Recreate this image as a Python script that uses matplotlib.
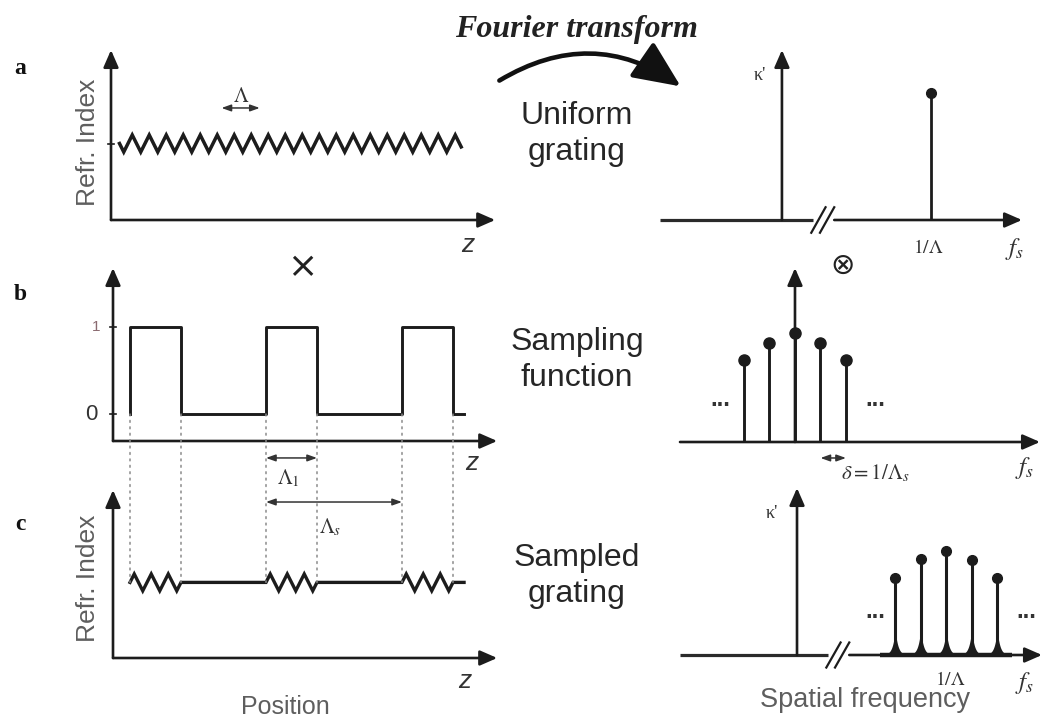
import numpy as np
import matplotlib.pyplot as plt
from matplotlib.patches import ConnectionPatch, FancyArrowPatch

plt.rcParams['font.family'] = ['Liberation Sans', 'DejaVu Sans']
plt.rcParams['mathtext.fontset'] = 'stix'

W, H = 1047, 724
INK = '#1c1c1c'
GREY = '#5e5e5e'

# ---- spatial domain (z measured in grating periods) ----
grating_start, grating_end = 0.5, 20.6
index_mean, index_mod = 0.9, 0.1
burst_starts = [1.0, 9.0, 17.0]
burst_length = 3.0
sample_period = 8.0
signal_end = 20.65
z_axis_len = 22.6
lambda_marker = [6.5, 8.75]

# ---- spectral domain (f measured in comb spacings) ----
comb_orders = [-2, -1, 0, 1, 2]
comb_heights_sampling = [0.75, 0.91, 1.0, 0.91, 0.75]
comb_heights_sampled = [0.74, 0.92, 1.0, 0.91, 0.74]
bragg_freq = 5.85
bragg_height = 1.2
axis_break = 1.6


def tri(z):
    """Unit triangle wave, rising through zero at integer z."""
    return 4 * np.abs(((z - 0.25) % 1.0) - 0.5) - 1


def in_burst(z):
    m = np.zeros_like(z, dtype=bool)
    for s in burst_starts:
        m |= (z >= s) & (z <= s + burst_length)
    return m


fig = plt.figure(figsize=(W / 100, H / 100), dpi=100)
fig.patch.set_facecolor('white')

ov = fig.add_axes([0, 0, 1, 1])
ov.set_xlim(0, W)
ov.set_ylim(H, 0)
ov.axis('off')


def px_axes(x0, y0, x1, y1, xlim, ylim):
    ax = fig.add_axes([x0 / W, 1 - y1 / H, (x1 - x0) / W, (y1 - y0) / H])
    ax.set_xlim(*xlim)
    ax.set_ylim(*ylim)
    ax.axis('off')
    return ax


AXIS_ARROW = dict(arrowstyle='-|>,head_length=0.8,head_width=0.35',
                  color=INK, lw=1.9, mutation_scale=13,
                  shrinkA=0, shrinkB=0)
DIM_ARROW = dict(arrowstyle='<|-|>,head_length=0.7,head_width=0.25',
                 color='#333333', lw=1.1, mutation_scale=8,
                 shrinkA=0, shrinkB=0)


def arrow(ax, start, end, props=AXIS_ARROW):
    ax.annotate('', xy=end, xytext=start, arrowprops=props,
                annotation_clip=False)


# ================= left column: position domain =================
# (a) uniform grating
axa = px_axes(111, 50, 111 + 17 * z_axis_len, 220, (0, z_axis_len), (0, 2.0))
arrow(axa, (0, 0), (z_axis_len, 0))
arrow(axa, (0, 0), (0, 2.0))
za = np.append(np.arange(grating_start, grating_end, 0.25), grating_end)
axa.plot(za, index_mean + index_mod * tri(za), color=INK, lw=2.5,
         solid_joinstyle='miter', clip_on=False)
axa.plot([-0.18, 0.18], [index_mean, index_mean], color=INK, lw=1.2, clip_on=False)
axa.annotate('', xy=(lambda_marker[1], 1.318), xytext=(lambda_marker[0], 1.318),
             arrowprops=DIM_ARROW, annotation_clip=False)

# (b) sampling function
axb = px_axes(113, 268, 113 + 17 * z_axis_len, 441, (0, z_axis_len), (-0.31, 1.68))
arrow(axb, (0, -0.31), (z_axis_len, -0.31))
arrow(axb, (0, -0.31), (0, 1.68))
zs, ys = [], []
for s in burst_starts:
    zs += [s, s, s + burst_length, s + burst_length]
    ys += [0, 1, 1, 0]
zs.append(signal_end)
ys.append(0)
axb.plot(zs, ys, color=INK, lw=2.1, clip_on=False)
for lvl in (0, 1):
    axb.plot([-0.18, 0.18], [lvl, lvl], color=INK, lw=1.2, clip_on=False)
s1 = burst_starts[1]
axb.annotate('', xy=(s1 + burst_length, -0.505), xytext=(s1, -0.505),
             arrowprops=DIM_ARROW, annotation_clip=False)
axb.text(s1 + burst_length / 2 - 0.2, -0.74, r'$\Lambda_1$', fontsize=15,
         ha='center', va='center', color='#333333')

# (c) sampled grating = uniform grating x sampling function
axc = px_axes(113, 490, 113 + 17 * z_axis_len, 658, (0, z_axis_len), (0, 2.0))
arrow(axc, (0, 0), (z_axis_len, 0))
arrow(axc, (0, 0), (0, 2.0))
zc = np.append(np.arange(burst_starts[0], signal_end, 0.25), signal_end)
axc.plot(zc, index_mean + index_mod * tri(zc) * in_burst(zc), color=INK,
         lw=2.4, solid_joinstyle='miter', clip_on=False)
axc.annotate('', xy=(s1 + sample_period, 1.857), xytext=(s1, 1.857),
             arrowprops=DIM_ARROW, annotation_clip=False)
axc.text(s1 + 3.8, 1.56, r'$\Lambda_s$', fontsize=15, ha='center',
         va='center', color='#333333')

# dotted guides from the burst edges down to the sampled grating
for s in burst_starts:
    for e in (s, s + burst_length):
        con = ConnectionPatch(xyA=(e, 0), coordsA=axb.transData,
                              xyB=(e, index_mean), coordsB=axc.transData,
                              color='#8a8a8a', lw=1.1, ls=(0, (1.2, 3.0)))
        fig.add_artist(con)

# ================= right column: spatial-frequency domain =================
def broken_axis(ax, f0, f1):
    ax.plot([f0, axis_break - 0.4], [0, 0], color='#2a2a2a', lw=2.3,
            solid_capstyle='butt', clip_on=False)
    arrow(ax, (axis_break + 0.45, 0), (f1, 0))
    for off in (-0.17, 0.17):
        c = axis_break + off
        ax.plot([c - 0.28, c + 0.28], [-0.12, 0.12], color=INK, lw=1.6,
                clip_on=False)


# (a) spectrum of the uniform grating
ra = px_axes(660, 50, 1022, 220, (-4.78, 9.41), (0, 1.6))
broken_axis(ra, -4.78, 9.41)
arrow(ra, (0, 0), (0, 1.6))
ra.vlines(bragg_freq, 0, bragg_height, color=INK, lw=2.0)
ra.plot([bragg_freq], [bragg_height], 'o', color=INK, ms=7, clip_on=False)

# (b) comb spectrum of the sampling function
rb = px_axes(680, 268, 1040, 442, (-4.51, 9.61), (0, 1.6))
arrow(rb, (-4.51, 0), (9.61, 0))
arrow(rb, (0, 0), (0, 1.6))
rb.vlines(comb_orders, 0, comb_heights_sampling, color=INK, lw=2.1)
rb.plot(comb_orders, comb_heights_sampling, 'o', color=INK, ms=8, clip_on=False)
rb.annotate('', xy=(2, -0.147), xytext=(1, -0.147), arrowprops=DIM_ARROW,
            annotation_clip=False)

# (c) spectrum of the sampled grating
rc = px_axes(680, 488, 1042, 655, (-4.59, 9.61), (0, 1.6))
broken_axis(rc, -4.59, 9.61)
arrow(rc, (0, 0), (0, 1.6))
peaks = [bragg_freq + k for k in comb_orders]
rc.vlines(peaks, 0, comb_heights_sampled, color=INK, lw=2.2)
rc.plot(peaks, comb_heights_sampled, 'o', color=INK, ms=7, clip_on=False)
ff = np.linspace(peaks[0] - 0.6, peaks[-1] + 0.6, 2000)
flare = np.max([0.24 * np.exp(-np.abs(ff - p) / 0.11) for p in peaks], axis=0)
rc.fill_between(ff, 0, flare, color=INK, lw=0)
rc.plot([peaks[0] - 0.6, peaks[-1] + 0.6], [0, 0], color=INK, lw=3.2,
        solid_capstyle='butt', clip_on=False)

# ================= annotations =================
ov.text(576, 30, 'Fourier transform', fontsize=23, fontweight='bold',
        fontstyle='italic', family='Liberation Serif', ha='center',
        va='center', color='#222222')
ov.add_patch(FancyArrowPatch((497, 82), (683, 88),
                             connectionstyle='arc3,rad=-0.33',
                             arrowstyle='-|>,head_length=1.45,head_width=0.65',
                             mutation_scale=20, lw=3.3, color='#111111'))

for txt, y in [('Uniform\ngrating', 134), ('Sampling\nfunction', 360),
               ('Sampled\ngrating', 576)]:
    ov.text(577, y, txt, fontsize=23, ha='center', va='center',
            linespacing=1.22, color='#262626')

for lab, y in [('a', 68), ('b', 295), ('c', 525)]:
    ov.text(20, y, lab, fontsize=17, fontweight='bold',
            family='Liberation Serif', ha='center', va='center', color='#111111')

ov.text(302, 267, '×', fontsize=26, ha='center', va='center',
        family='DejaVu Sans', color='#222222')
ov.text(843, 266, '⊗', fontsize=21, ha='center', va='center',
        family='DejaVu Sans', color='#222222')

for y in (142, 578):
    ov.text(88, y, 'Refr. Index', fontsize=19, rotation=90, ha='center',
            va='center', color=GREY)

for x, y in [(468, 245), (472, 463), (465, 681)]:
    ov.text(x, y, 'z', fontsize=19, fontstyle='italic', ha='center',
            va='center', color='#333333')

ov.text(96, 327, '1', fontsize=11, ha='center', va='center', color='#8a6a70')
ov.text(91, 414, '0', fontsize=16, ha='center', va='center', color='#333333')
ov.text(241, 97, r'$\Lambda$', fontsize=15, ha='center', va='center',
        color='#333333')

for x, y in [(928, 248), (950, 680)]:
    ov.text(x, y, r'$1/\Lambda$', fontsize=14, ha='center', va='center',
            color='#333333')
for x, y in [(1015, 249), (1025, 468), (1025, 683)]:
    ov.text(x, y, r'$f_s$', fontsize=18, ha='center', va='center',
            color='#333333')
ov.text(875, 473, r'$\delta = 1/\Lambda_s$', fontsize=15, ha='center',
        va='center', color='#333333')
for x, y in [(760, 75), (772, 513)]:
    ov.text(x, y, "κ'", fontsize=13, family='Liberation Serif',
            ha='center', va='center', color='#333333')
for x, y in [(720, 400), (875, 400), (875, 611), (1026, 611)]:
    ov.text(x, y, '...', fontsize=17, fontweight='bold', ha='center',
            va='center', color='#333333')

ov.text(285, 707, 'Position', fontsize=18, ha='center', va='center', color=GREY)
ov.text(865, 700, 'Spatial frequency', fontsize=19.5, ha='center', va='center',
        color=GREY)

fig.savefig('out.png', dpi=100, facecolor='white')
